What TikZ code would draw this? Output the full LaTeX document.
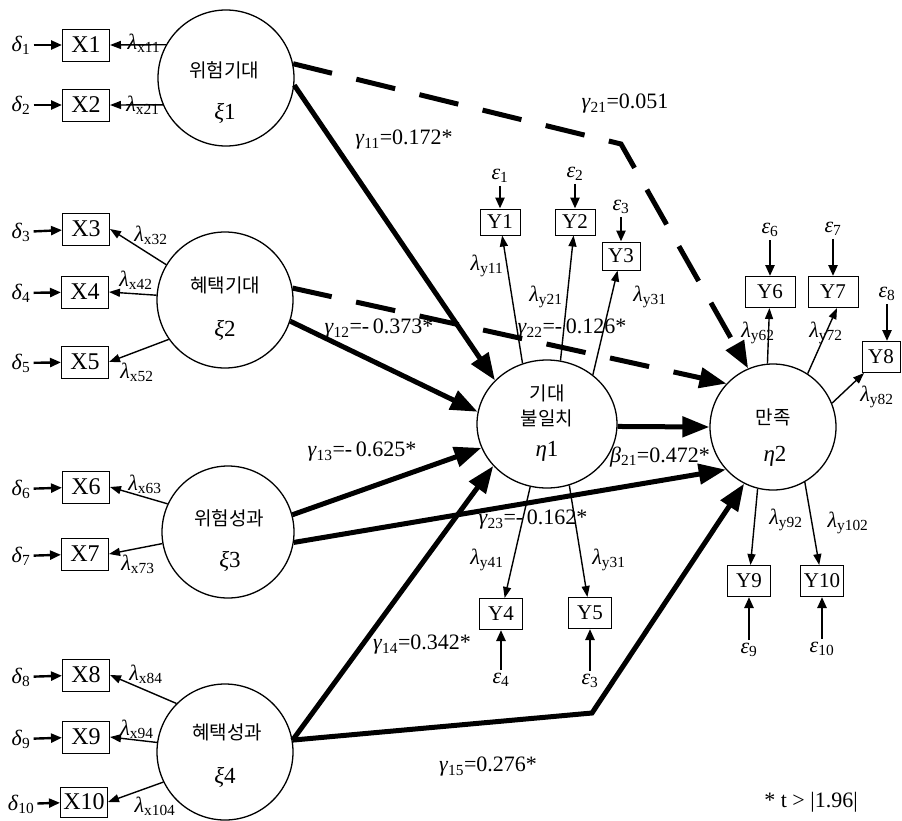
\documentclass[tikz,border=0pt]{standalone}
\usepackage{fontspec}
\setmainfont{Liberation Serif}
\newfontfamily\krfont{Noto Sans CJK KR}
\usetikzlibrary{arrows.meta,shapes.geometric}
\newcommand{\lv}[2]{{\rmfamily\fontsize{23}{24}\selectfont\textit{#1}#2}}
\newcommand{\lam}[1]{\textit{λ}\textsubscript{#1}}
\newcommand{\gam}[3]{\textit{#1}\textsubscript{#2}=#3}
\newcommand{\gsub}[2]{\textit{#1}\textsubscript{#2}}
\begin{document}
\begin{tikzpicture}[x=1pt,y=-1pt,
  lat/.style={circle,draw,line width=1.3pt,minimum size=#1,inner sep=0pt},
  lat/.default=136pt,
  kr/.style={inner sep=0pt,font=\krfont\fontsize{19}{22}\selectfont},
  gv/.style={inner sep=0pt},
  obsx/.style={draw,line width=1pt,minimum width=47pt,minimum height=32pt,inner sep=1pt,font=\fontsize{24}{26}\selectfont},
  obsy/.style={draw,line width=1pt,minimum width=43pt,minimum height=31pt,inner sep=1pt,font=\fontsize{21}{24}\selectfont},
  lab/.style={inner sep=3pt,font=\fontsize{22}{24}\selectfont},
  plab/.style={inner sep=0pt,font=\fontsize{22}{24}\selectfont},
  thinarr/.style={line width=1.4pt,-{Triangle[length=11pt,width=8pt]}},
  errarr/.style={line width=2.4pt,-{Triangle[length=11pt,width=9pt]}},
  sarr/.style={line width=5pt,-{Triangle[length=27pt,width=20pt]}},
  darr/.style={sarr,dash pattern=on 40pt off 25pt}]
\useasboundingbox (0,0) rectangle (902,820);

% latent variables
\node[lat] (xi1) at (226,78) {};
\node[lat] (xi2) at (225,300) {};
\node[lat=132pt] (xi3) at (228,532) {};
\node[lat] (xi4) at (225,752) {};
\node[ellipse,draw,line width=1.3pt,minimum width=140pt,minimum height=128pt,inner sep=0pt] (eta1) at (547,424) {};
\node[lat=126pt] (eta2) at (773,427) {};

\node[kr] (t1a) at (224,70) {위험기대};
\node[gv] (t1b) at (225,113) {\lv{ξ}{1}};
\node[kr] (t2a) at (225,285) {혜택기대};
\node[gv] (t2b) at (225,330) {\lv{ξ}{2}};
\node[kr] (t3a) at (229,518) {위험성과};
\node[gv] (t3b) at (230,561) {\lv{ξ}{3}};
\node[kr] (t4a) at (227,732) {혜택성과};
\node[gv] (t4b) at (225,777) {\lv{ξ}{4}};
\node[kr] (t5a) at (547,393) {기대};
\node[kr] (t5b) at (547,418) {불일치};
\node[gv] (t5c) at (547,451) {\lv{η}{1}};
\node[kr] (t6a) at (773,417) {만족};
\node[gv] (t6b) at (775,456) {\lv{η}{2}};

% X indicators
\node[obsx] (X1) at (86,45) {X1};
\node[obsx] (X2) at (86,105) {X2};
\node[obsx] (X3) at (86,229) {X3};
\node[obsx] (X4) at (85,292) {X4};
\node[obsx] (X5) at (85,362) {X5};
\node[obsx] (X6) at (86,487) {X6};
\node[obsx] (X7) at (85,554) {X7};
\node[obsx] (X8) at (86,675) {X8};
\node[obsx] (X9) at (86,737) {X9};
\node[obsx,minimum height=30pt] (X10) at (84,802) {X10};

\foreach \i/\y in {1/45,2/105,3/232,4/293,5/363,6/489,7/556,8/677,9/739,10/804}{
  \node[lab] (d\i) at (21,\y) {\gsub{δ}{\i}};
  \draw[errarr] (d\i) -- (X\i);
}

% loadings to X
\draw[thinarr] (xi1.151) -- (X1.east);
\draw[thinarr] (xi1.203) -- (X2.east);
\draw[thinarr] (xi2.149) -- (X3.east);
\draw[thinarr] (xi2.176) -- (X4.east);
\draw[thinarr] (xi2.215) -- (X5.east);
\draw[thinarr] (xi3.155) -- (X6.east);
\draw[thinarr] (xi3.190) -- (X7.east);
\draw[thinarr] (xi4.135) -- (X8.east);
\draw[thinarr] (xi4.172) -- (X9.east);
\draw[thinarr] (xi4.206) -- (X10.east);

\node[plab] (lx1) at (144,43) {\lam{x11}};
\node[plab] (lx2) at (143,105) {\lam{x21}};
\node[plab] (lx3) at (151,235) {\lam{x32}};
\node[plab] (lx4) at (136,280) {\lam{x42}};
\node[plab] (lx5) at (137,372) {\lam{x52}};
\node[plab] (lx6) at (145,484) {\lam{x63}};
\node[plab] (lx7) at (138,564) {\lam{x73}};
\node[plab] (lx8) at (146,674) {\lam{x84}};
\node[plab] (lx9) at (137,729) {\lam{x94}};
\node[plab] (lx10) at (155,806) {\lam{x104}};

% Y indicators
\node[obsy,minimum width=40pt,minimum height=26pt] (Y1) at (500,222) {Y1};
\node[obsy,minimum width=40pt,minimum height=26pt] (Y2) at (575,222) {Y2};
\node[obsy,minimum width=38pt,minimum height=28pt] (Y3) at (621,256) {Y3};
\node[obsy] (Y4) at (501,614) {Y4};
\node[obsy] (Y5) at (590,613) {Y5};
\node[obsy,minimum width=50pt] (Y6) at (770,292) {Y6};
\node[obsy,minimum width=50pt] (Y7) at (833,292) {Y7};
\node[obsy,minimum width=38pt] (Y8) at (881,357) {Y8};
\node[obsy] (Y9) at (749,581) {Y9};
\node[obsy] (Y10) at (822,581) {Y10};

\node[lab] (e1) at (500,176) {\gsub{ε}{1}};
\node[lab] (e2) at (575,174) {\gsub{ε}{2}};
\node[lab] (e3) at (621,207) {\gsub{ε}{3}};
\node[lab] (e4) at (501,680) {\gsub{ε}{4}};
\node[lab] (e5) at (590,681) {\gsub{ε}{3}};
\node[lab] (e6) at (770,230) {\gsub{ε}{6}};
\node[lab] (e7) at (833,229) {\gsub{ε}{7}};
\node[lab] (e8) at (887,294) {\gsub{ε}{8}};
\node[lab] (e9) at (749,650) {\gsub{ε}{9}};
\node[lab] (e10) at (822,649) {\gsub{ε}{10}};

\foreach \e/\y in {e1/Y1,e2/Y2,e3/Y3,e4/Y4,e5/Y5,e6/Y6,e7/Y7,e9/Y9,e10/Y10}{
  \draw[errarr] (\e) -- (\y);
}
\draw[errarr] (e8) -- (e8 |- Y8.north);

% loadings to Y
\draw[thinarr] (eta1.112) -- (Y1);
\draw[thinarr] (eta1.78) -- (Y2);
\draw[thinarr] (eta1.47) -- (Y3);
\draw[thinarr] (eta1.255) -- (Y4);
\draw[thinarr] (eta1.290) -- (Y5);
\draw[thinarr] (eta2.95) -- (Y6);
\draw[thinarr] (eta2.57) -- ([xshift=4pt]Y7.south);
\draw[thinarr] (eta2.22) -- (Y8);
\draw[thinarr] (eta2.256) -- (Y9);
\draw[thinarr] (eta2.300) -- (Y10);

\node[plab] (ly1) at (487,266) {\lam{y11}};
\node[plab] (ly2) at (546,297) {\lam{y21}};
\node[plab] (ly3) at (650,297) {\lam{y31}};
\node[plab] (ly4) at (487,560) {\lam{y41}};
\node[plab] (ly5) at (609,560) {\lam{y31}};
\node[plab] (ly6) at (758,333) {\lam{y62}};
\node[plab] (ly7) at (826,333) {\lam{y72}};
\node[plab] (ly8) at (877,397) {\lam{y82}};
\node[plab] (ly9) at (786,520) {\lam{y92}};
\node[plab] (ly10) at (848,523) {\lam{y102}};

% structural paths
\coordinate (c21) at (621,144);
\coordinate (c15) at (592,713);
\draw[darr] (xi1.12) -- (c21) -- (eta2.113);
\draw[darr] (xi2.10) -- (eta2.137);
\draw[sarr] (xi1.354) -- (eta1.140);
\draw[sarr] (xi2.342) -- (eta1.170);
\draw[sarr] (xi3.15) -- (eta1.200);
\draw[sarr] (xi4.10) -- (eta1.218);
\draw[sarr] (xi4.10) -- (c15) -- (eta2.243);
\draw[sarr] (xi3.351) -- (eta2.222);
\draw[sarr] (eta1.358) -- (eta2.180);

\node[plab] (g11) at (404,140) {\gam{γ}{11}{0.172*}};
\node[plab] (g21) at (625,104) {\gam{γ}{21}{0.051}};
\node[plab] (g12) at (379,329) {\gam{γ}{12}{-\,0.373*}};
\node[plab] (g22) at (572,329) {\gam{γ}{22}{-\,0.126*}};
\node[plab] (g13) at (362,452) {\gam{γ}{13}{-\,0.625*}};
\node[plab] (b21) at (660,457) {\gam{β}{21}{0.472*}};
\node[plab] (g23) at (533,520) {\gam{γ}{23}{-\,0.162*}};
\node[plab] (g14) at (422,645) {\gam{γ}{14}{0.342*}};
\node[plab] (g15) at (488,767) {\gam{γ}{15}{0.276*}};
\node[plab] (note) at (811,802) {* t > |1.96|};
\end{tikzpicture}
\end{document}
